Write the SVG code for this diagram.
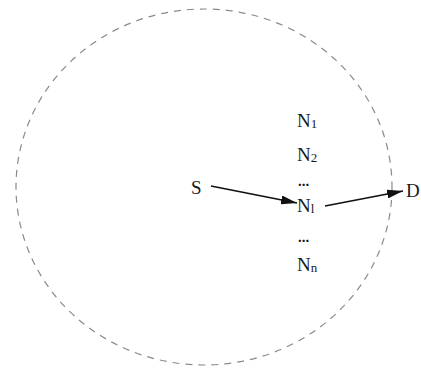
<svg xmlns="http://www.w3.org/2000/svg" width="421" height="370" viewBox="0 0 421 370">
<style>
.t{font-family:"Liberation Serif","Times New Roman",serif;font-size:19px;fill:#1a1a1a}
.s{font-size:13px}
.d{font-size:15px;font-weight:bold}
.c{fill:none;stroke:#8a8a8a;stroke-width:1.2;stroke-dasharray:7 6}
.e{stroke:#111;stroke-width:1.7;fill:none}
</style>
<defs>
<marker id="ahb" markerWidth="16" markerHeight="9" refX="16" refY="4.5" orient="auto" markerUnits="userSpaceOnUse" viewBox="0 0 16 9">
<path d="M0,0 L16,4.5 L0,9 z" fill="#111"/>
</marker>
</defs>
<rect width="421" height="370" fill="#fff"/>
<g id="region"><ellipse class="c" cx="204" cy="187" rx="188" ry="178"/></g>
<g id="connectors">
<line class="e" x1="211" y1="186" x2="297" y2="203" marker-end="url(#ahb)"/>
<line class="e" x1="325" y1="206" x2="403" y2="191" marker-end="url(#ahb)"/>
</g>
<g id="S"><text class="t" x="191" y="194">S</text></g>
<g id="D"><text class="t" x="406" y="197">D</text></g>
<g id="N1"><text class="t" x="297" y="127">N<tspan class="s" dy="1">1</tspan></text></g>
<g id="N2"><text class="t" x="297" y="161">N<tspan class="s" dy="1">2</tspan></text></g>
<g id="dots1"><text class="t d" x="298" y="186">...</text></g>
<g id="Ni"><text class="t" x="297" y="212">N<tspan class="s" dy="1">l</tspan></text></g>
<g id="dots2"><text class="t d" x="298" y="242">...</text></g>
<g id="Nn"><text class="t" x="297" y="271">N<tspan class="s" dy="1">n</tspan></text></g>
</svg>
